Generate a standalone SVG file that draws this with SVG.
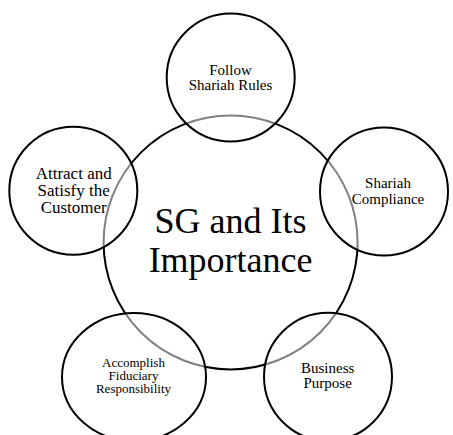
<svg xmlns="http://www.w3.org/2000/svg" width="453" height="435" viewBox="0 0 453 435">
<style>
.c{fill:none;stroke:#000;stroke-width:2}
.o{fill:#fff;fill-opacity:0.5;stroke:#000;stroke-width:2}
text{font-family:"Liberation Serif","Times New Roman",serif;fill:#000;text-anchor:middle}
</style>
<rect width="453" height="435" fill="#fff"/>
<g id="center">
<circle class="c" cx="230.6" cy="242.4" r="127"/>
<text font-size="36" x="230.6" y="233">SG and Its</text>
<text font-size="36" x="230.6" y="272">Importance</text>
</g>
<g id="connectors"></g>
<g id="follow">
<circle class="o" cx="230.7" cy="77.5" r="64"/>
<text font-size="15" x="230.5" y="75">Follow</text>
<text font-size="15" x="230.5" y="90">Shariah Rules</text>
</g>
<g id="attract">
<circle class="o" cx="73.3" cy="190.8" r="64"/>
<text font-size="17" x="73.7" y="179">Attract and</text>
<text font-size="17" x="73.7" y="196">Satisfy the</text>
<text font-size="17" x="73.7" y="213">Customer</text>
</g>
<g id="compliance">
<circle class="o" cx="384" cy="191.5" r="64"/>
<text font-size="15" x="388" y="188">Shariah</text>
<text font-size="15" x="388" y="204">Compliance</text>
</g>
<g id="fiduciary">
<ellipse class="o" cx="134" cy="377" rx="72" ry="64"/>
<text font-size="13" x="133.5" y="366.7">Accomplish</text>
<text font-size="13" x="133.5" y="380">Fiduciary</text>
<text font-size="13" x="133.5" y="393">Responsibility</text>
</g>
<g id="business">
<circle class="o" cx="328" cy="376.7" r="64"/>
<text font-size="15" x="327.7" y="373">Business</text>
<text font-size="15" x="327.7" y="388.3">Purpose</text>
</g>
</svg>
